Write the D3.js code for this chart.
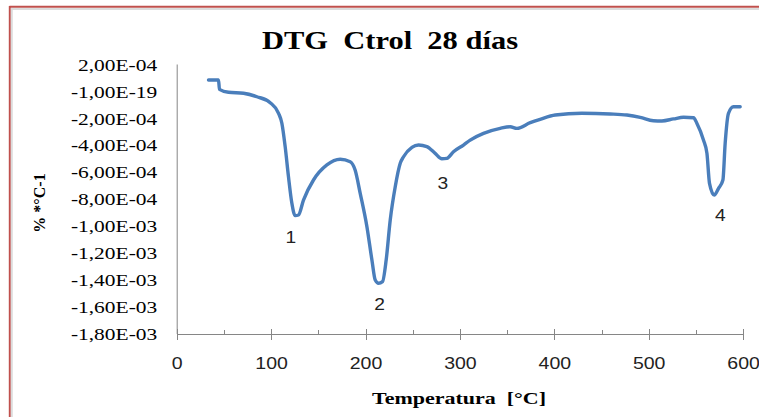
<!DOCTYPE html>
<html><head><meta charset="utf-8">
<script src="https://cdn.jsdelivr.net/npm/d3@7"></script>
<style>html,body{margin:0;padding:0;background:#fff;}svg{display:block;}</style>
</head><body>
<svg id="c" width="759" height="417"></svg>
<script>
// ---- data ----
const temperature = [33.7,44.3,45.3,54.9,70.8,85,99,107.9,111.4,114.9,118.4,122,125.5,129,134.3,144.9,159.1,173.2,183.8,189,194.4,201.5,206.8,210.3,213.8,218,221.9,226.2,231.5,236.8,240.3,249.2,256.2,265,273.8,280.9,286.2,293.2,303.8,310.9,325,342.7,353.3,360.4,374.5,385,401,429.2,459.2,476.9,491,505,514,526.3,536.9,547.5,551,558,561.7,564.4,569.4,574,578.6,581,584.5,589.8,596.9];
const dtgE4 = [0.88,0.88,0.19,-0.03,-0.10,-0.36,-0.80,-1.59,-2.33,-4.07,-6.30,-8.28,-9.20,-9.15,-8.04,-6.55,-5.43,-5.01,-5.19,-5.81,-7.54,-10.02,-12.50,-13.99,-14.23,-14.11,-12.50,-9.52,-7.05,-5.31,-4.82,-4.12,-3.95,-4.07,-4.57,-4.97,-4.94,-4.45,-3.95,-3.58,-3.08,-2.71,-2.59,-2.71,-2.29,-2.04,-1.72,-1.59,-1.64,-1.72,-1.89,-2.14,-2.16,-2.01,-1.89,-1.92,-2.33,-3.58,-4.57,-6.80,-7.67,-7.17,-6.55,-3.82,-1.59,-1.10,-1.10];
const dtg = dtgE4.map(v => v * 1e-4);
const yTickValues = [2e-4,0,-2e-4,-4e-4,-6e-4,-8e-4,-1e-3,-1.2e-3,-1.4e-3,-1.6e-3,-1.8e-3];
const yTickLabels = ["2,00E-04","-1,00E-19","-2,00E-04","-4,00E-04","-6,00E-04","-8,00E-04","-1,00E-03","-1,20E-03","-1,40E-03","-1,60E-03","-1,80E-03"];
const xTickValues = [0,100,200,300,400,500,600];
const xTickLabels = ["0","100","200","300","400","500","600"];
const xMinorTicks = [50,150,250,350,450,550];
const peakLabels = ["1","2","3","4"];
const peakT = [121,215,282,576];
const peakV = [-11.2e-4,-16.2e-4,-7.2e-4,-9.6e-4];
const titleText = "DTG  Ctrol  28 días";
const xTitle = "Temperatura  [°C]";
const yTitle = "% *°C-1";

// ---- layout ----
const svg = d3.select("#c");
const x = d3.scaleLinear().domain([0,600]).range([176.7,743.1]);
const y = d3.scaleLinear().domain([-1.8e-3,2e-4]).range([334,65]);

// chart border
svg.append("line").attr("x1",9.5).attr("x2",759).attr("y1",6.8).attr("y2",6.8).attr("stroke","#c0504d").attr("stroke-width",2);
svg.append("line").attr("x1",9.8).attr("x2",9.8).attr("y1",6).attr("y2",417).attr("stroke","#c0504d").attr("stroke-width",2);
svg.append("line").attr("x1",11).attr("x2",759).attr("y1",9).attr("y2",9).attr("stroke","#dcdcdc").attr("stroke-width",2);
svg.append("line").attr("x1",11.8).attr("x2",11.8).attr("y1",8).attr("y2",417).attr("stroke","#dcdcdc").attr("stroke-width",2);

// title
svg.append("text").attr("x",390).attr("y",49).attr("text-anchor","middle")
  .attr("font-family","'Liberation Serif','Times New Roman',serif").attr("font-weight","bold")
  .attr("font-size",25).style("white-space","pre")
  .attr("textLength",256).attr("lengthAdjust","spacingAndGlyphs").text(titleText);

// y axis
const yAxis = svg.append("g").attr("transform","translate(176.7,0)")
  .call(d3.axisLeft(y).tickValues(yTickValues).tickFormat((d,i)=>yTickLabels[i]).tickSize(0).tickPadding(15));
yAxis.select(".domain").attr("stroke","#868686").attr("d","M0.5,64.5V334");
yAxis.selectAll("text").attr("font-family","'Liberation Serif','Times New Roman',serif")
  .attr("font-size",16.5).attr("fill","#000").attr("transform","scale(1.3,1)");

// x axis
const xAxis = svg.append("g").attr("transform","translate(0,334)")
  .call(d3.axisBottom(x).tickValues(xTickValues).tickFormat((d,i)=>xTickLabels[i]).tickSize(0));
xAxis.select(".domain").attr("stroke","#868686");
xAxis.selectAll(".tick text").attr("font-family","'Liberation Sans',Arial,sans-serif")
  .attr("font-size",16).attr("fill","#222").attr("dy","0").attr("y",35).attr("transform","scale(1.22,1)");
svg.append("g").selectAll("line").data(xTickValues).join("line")
  .attr("x1",d=>Math.round(x(d))+0.5).attr("x2",d=>Math.round(x(d))+0.5).attr("y1",329).attr("y2",340)
  .attr("stroke","#868686");
svg.append("g").selectAll("line").data(xMinorTicks).join("line")
  .attr("x1",d=>Math.round(x(d))+0.5).attr("x2",d=>Math.round(x(d))+0.5).attr("y1",330).attr("y2",334)
  .attr("stroke","#868686");

// axis titles
svg.append("text").attr("x",459).attr("y",404).attr("text-anchor","middle")
  .attr("font-family","'Liberation Serif','Times New Roman',serif").attr("font-weight","bold")
  .attr("font-size",17).style("white-space","pre")
  .attr("textLength",174).attr("lengthAdjust","spacingAndGlyphs").text(xTitle);
svg.append("text").attr("transform","translate(45,203) rotate(-90)").attr("text-anchor","middle")
  .attr("font-family","'Liberation Serif','Times New Roman',serif").attr("font-weight","bold")
  .attr("font-size",16).text(yTitle);

// line
const line = d3.line().x((d,i)=>x(temperature[i])).y(d=>y(d)).curve(d3.curveMonotoneX);
svg.append("path").datum(dtg).attr("d",line).attr("fill","none")
  .attr("stroke","#4a7ebb").attr("stroke-width",3.4).attr("stroke-linejoin","round").attr("stroke-linecap","round");

// peak labels
svg.append("g").selectAll("text").data(peakLabels).join("text")
  .attr("x",(d,i)=>x(peakT[i])).attr("y",(d,i)=>y(peakV[i])).attr("text-anchor","middle")
  .attr("font-family","'Liberation Sans',Arial,sans-serif").attr("font-size",16).attr("fill","#222")
  .attr("transform",(d,i)=>`translate(${x(peakT[i])},0) scale(1.2,1) translate(${-x(peakT[i])},0)`)
  .text(d=>d);
</script>
</body></html>
